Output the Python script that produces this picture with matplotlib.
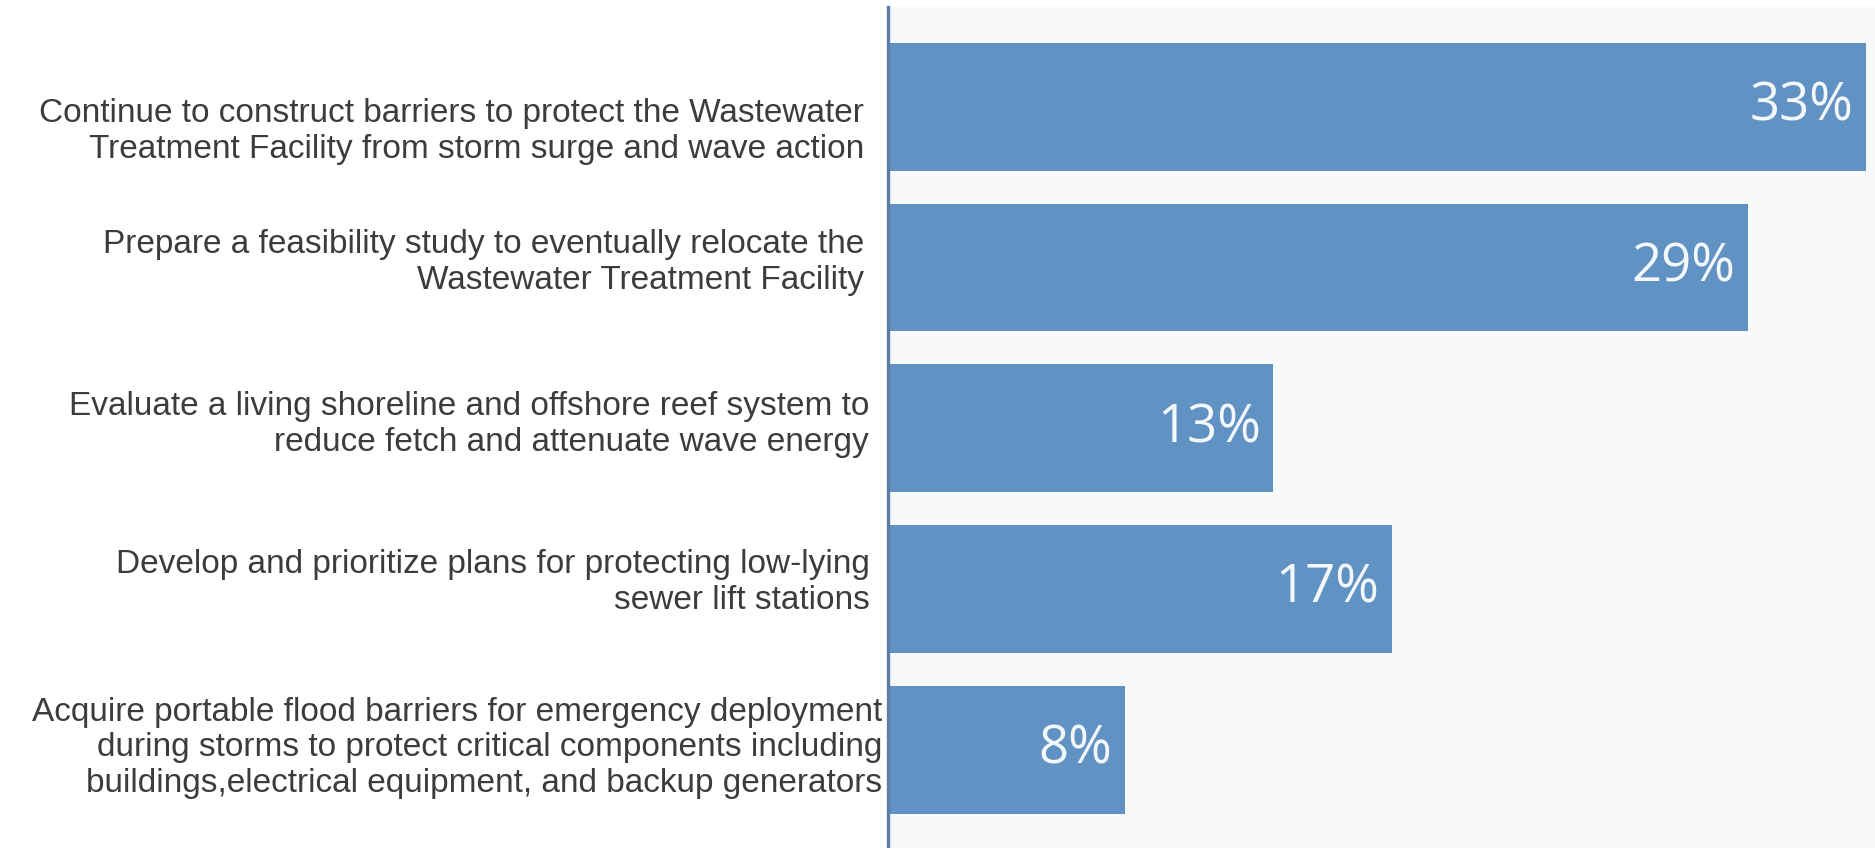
import matplotlib
matplotlib.use("Agg")
import matplotlib.pyplot as plt
import matplotlib.transforms as mtransforms

# Survey responses: share of votes per wastewater adaptation strategy
strategies = [
    "Continue to construct barriers to protect the Wastewater\nTreatment Facility from storm surge and wave action",
    "Prepare a feasibility study to eventually relocate the\nWastewater Treatment Facility",
    "Evaluate a living shoreline and offshore reef system to\nreduce fetch and attenuate wave energy",
    "Develop and prioritize plans for protecting low-lying\nsewer lift stations",
    "Acquire portable flood barriers for emergency deployment\nduring storms to protect critical components including\nbuildings,electrical equipment, and backup generators",
]
percent = [33, 29, 13, 17, 8]

BAR_COLOR = "#6092c4"
PANEL_BG = "#f7f9fb"
SPINE_COLOR = "#5b7ea6"
TEXT_COLOR = "#3c3c3c"

fig = plt.figure(figsize=(18.75, 8.48), dpi=100)
fig.patch.set_facecolor("white")
ax = fig.add_axes([888 / 1875, 0.0, 1 - 888 / 1875, 1 - 7 / 848])
ax.set_facecolor(PANEL_BG)

ypos = list(range(len(percent)))
ax.barh(ypos, percent, height=0.795, color=BAR_COLOR, zorder=2)

ax.set_xlim(0, 33.3)
ax.set_ylim(4.61, -0.62)

for side in ("top", "right", "bottom"):
    ax.spines[side].set_visible(False)
ax.spines["left"].set_color(SPINE_COLOR)
ax.spines["left"].set_linewidth(2.4)
ax.spines["left"].set_zorder(3)
ax.set_xticks([])
ax.set_yticks([])

# value labels inside the bar ends
for y, v in zip(ypos, percent):
    off = mtransforms.offset_copy(ax.transData, fig=fig, x=-9, y=0, units="points")
    ax.text(v, y, f"{v}%", transform=off, ha="right", va="center",
            color="#f4f8fb", fontsize=38, family=["Open Sans", "DejaVu Sans"], zorder=4)

# category labels, right-aligned just left of the axis line
label_dx = [0, 0, 5, 6, 18]       # horizontal nudge in pixels
label_dy = [25, -5, -4, -7, -2]   # vertical nudge in pixels
blend = mtransforms.blended_transform_factory(ax.transAxes, ax.transData)
for y, s, dx, dy in zip(ypos, strategies, label_dx, label_dy):
    off = mtransforms.offset_copy(blend, fig=fig, x=dx * 72 / 100,
                                  y=-dy * 72 / 100, units="points")
    ax.text(-24 / 987, y, s, transform=off, ha="right", va="center",
            multialignment="right", color=TEXT_COLOR, fontsize=24,
            family=["Liberation Sans", "DejaVu Sans"],
            linespacing=1.2)

fig.savefig("out.png", dpi=100)
